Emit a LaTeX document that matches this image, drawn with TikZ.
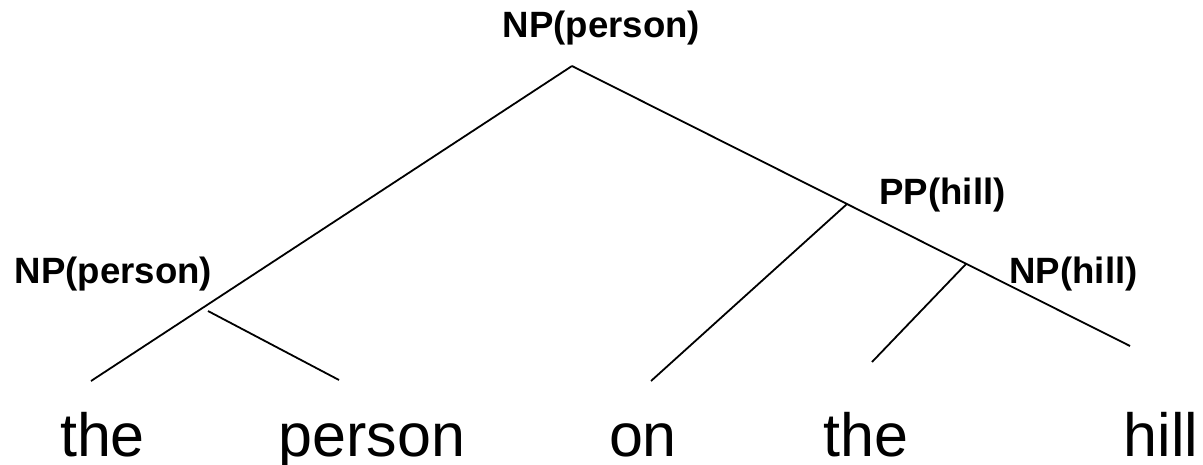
\documentclass[tikz,border=0pt]{standalone}
\usepackage{fontspec}
\setmainfont{Liberation Sans}
\begin{document}
\begin{tikzpicture}[x=1pt,y=-1pt,
  lbl/.style={font=\fontsize{36.6}{40}\selectfont\bfseries, inner sep=0pt, anchor=base},
  word/.style={font=\fontsize{61}{70}\selectfont, inner sep=0pt, anchor=base},
  branch/.style={draw=black, line width=1.8pt}]
\useasboundingbox (0,0) rectangle (1203,464);
% labels
\node[lbl] (top) at (601.5,37) {NP(person)};
\node[lbl] (npl) at (113.5,283) {NP(person)};
\node[lbl] (pp) at (942.5,204) {PP(hill)};
\node[lbl] (nph) at (1073.5,283) {NP(hill)};
% words
\node[word] (w1) at (102.5,456.5) {the};
\node[word] (w2) at (372,456.5) {person};
\node[word] (w3) at (643,456.5) {on};
\node[word] (w4) at (866,456.5) {the};
\node[word] (w5) at (1161,456.5) {hill};
% junctions and ends
\coordinate (apex) at (572,66);
\coordinate (jl) at (208,311);
\coordinate (jpp) at (847,204);
\coordinate (jnp) at (966,264);
\coordinate (e1) at (91,381);
\coordinate (e2) at (339,380);
\coordinate (e3) at (651,381);
\coordinate (e4) at (872,362);
\coordinate (e5) at (1130,346);
% branches
\draw[branch] (apex) -- (e1);
\draw[branch] (jl) -- (e2);
\draw[branch] (apex) -- (e5);
\draw[branch] (jpp) -- (e3);
\draw[branch] (jnp) -- (e4);
\end{tikzpicture}
\end{document}
